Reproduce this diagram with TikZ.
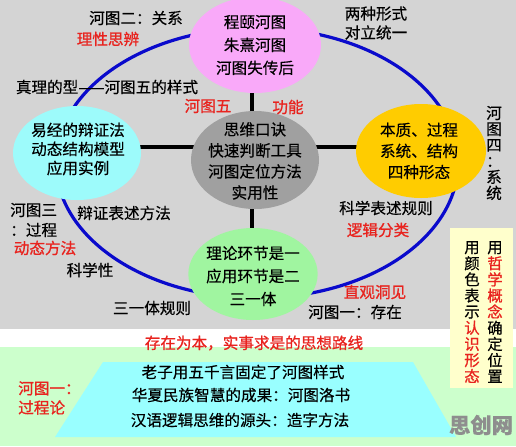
\documentclass[tikz,border=0pt]{standalone}
\usepackage{fontspec}
\setmainfont{Noto Sans CJK SC}[FakeBold=0.35]
\newfontfamily\redfont{Noto Sans CJK SC}[FakeBold=1.0]
\usetikzlibrary{shapes.geometric}
\pgfdeclarelayer{bgfill}
\pgfdeclarelayer{bglines}
\pgfsetlayers{bgfill,bglines,main}
\definecolor{bggray}{HTML}{D4D4D4}
\definecolor{pinkc}{HTML}{F9A9F9}
\definecolor{cyanc}{HTML}{9DFBFB}
\definecolor{grayc}{HTML}{A0A0A0}
\definecolor{orangec}{HTML}{FFCC00}
\definecolor{greenc}{HTML}{A0F5A0}
\definecolor{bandgreen}{HTML}{CCFFCC}
\definecolor{trapcyan}{HTML}{99FFFF}
\definecolor{yellowbox}{HTML}{FFFFCC}
\definecolor{ringblue}{HTML}{0A0ACC}
\definecolor{myred}{HTML}{E8231E}
\definecolor{wmgray}{HTML}{8E8E8E}
\newcommand{\rd}[1]{{\redfont\textcolor{myred}{#1}}}
\tikzset{
  txt/.style={inner sep=0pt, font=\fontsize{11.7}{14}\selectfont, text=black},
  redtxt/.style={inner sep=0pt, font=\redfont\fontsize{11.7}{14}\selectfont, text=myred},
  bubble/.style={ellipse, inner sep=0pt, draw=none},
  crossline/.style={line width=2.4pt, draw=black},
  ring/.style={line width=2.4pt, draw=ringblue}
}
\begin{document}
\begin{tikzpicture}[x=0.75pt,y=-0.75pt]
\useasboundingbox (0,0) rectangle (516,446);
% backgrounds
\begin{pgfonlayer}{bgfill}
\fill[bggray] (0,0) rectangle (516,329);
\fill[white] (0,329) rectangle (516,347);
\fill[bandgreen] (0,347) rectangle (516,446);
\end{pgfonlayer}
% bubbles
\node[bubble, fill=pinkc, minimum width=99pt, minimum height=72pt] (pink) at (255,45) {};
\node[bubble, fill=cyanc, minimum width=96pt, minimum height=70.5pt] (cyan) at (77,153) {};
\node[bubble, fill=grayc, minimum width=96pt, minimum height=73.5pt] (gray) at (255,160) {};
\node[bubble, fill=orangec, minimum width=97.5pt, minimum height=70.5pt] (orange) at (421,151) {};
\node[bubble, fill=greenc, minimum width=97pt, minimum height=69pt] (green) at (253,274) {};
% bubble texts
\node[txt, align=center, font=\fontsize{11.7}{17.2}\selectfont] (pinktxt) at (255,45) {程颐河图\\朱熹河图\\河图失传后};
\node[txt, align=center, font=\fontsize{11.7}{14.3}\selectfont] (cyantxt) at (78,149) {易经的辩证法\\动态结构模型\\应用实例};
\node[txt, align=center, font=\fontsize{11.7}{15.8}\selectfont] (graytxt) at (255,161) {思维口诀\\快速判断工具\\河图定位方法\\实用性};
\node[txt, align=center, font=\fontsize{11.7}{15.8}\selectfont] (orangetxt) at (419,151) {本质、过程\\系统、结构\\四种形态};
\node[txt, align=center, font=\fontsize{11.7}{17.2}\selectfont] (greentxt) at (253,276) {理论环节是一\\应用环节是二\\三一体};
% ring and cross lines
\coordinate (vline) at (252,0);
\coordinate (hline) at (0,147);
\begin{pgfonlayer}{bglines}
\draw[ring] (gray.center) ++(2,3) ellipse [x radius=201, y radius=135];
\draw[crossline] (pink.center -| vline) -- (green.center -| vline);
\draw[crossline] (cyan.center |- hline) -- (orange.center |- hline);
\end{pgfonlayer}
% labels
\node[txt] (l1) at (136,18) {河图二：关系};
\node[redtxt] (l2) at (108,39) {理性思辨};
\node[txt] (l3) at (107,87) {真理的型——河图五的样式};
\node[redtxt] (l4) at (208,106) {河图五};
\node[redtxt] (l5) at (288,107) {功能};
\node[txt, align=left, font=\fontsize{11.7}{14.3}\selectfont] (l6) at (376,23) {两种形式\\对立统一};
\node[txt, align=center, font=\fontsize{11.7}{12}\selectfont] (l7) at (494,153) {河\\图\\四\\：\\系\\统};
\node[txt] (l8) at (386,208) {科学表述规则};
\node[redtxt] (l9) at (378,230) {逻辑分类};
\node[redtxt] (l10) at (375,292) {直观洞见};
\node[txt] (l11) at (355,312) {河图一：存在};
\node[txt] (l12) at (152,308) {三一体规则};
\node[txt] (l13) at (90,270) {科学性};
\node[redtxt] (l14) at (45,248) {动态方法};
\node[txt, align=left, anchor=west, font=\fontsize{11.7}{15}\selectfont] (l15) at (10,220) {河图三\\：过程};
\node[txt] (l16) at (124,213) {辩证表述方法};
% bottom section
\node[redtxt] (l17) at (254,343) {存在为本，实事求是的思想路线};
\fill[trapcyan] (103,362) -- (413,362) -- (456,437) -- (55,437) -- cycle;
\node[redtxt, align=left, anchor=west, font=\redfont\fontsize{11.7}{14.5}\selectfont] (l18) at (18,398) {河图一：\\过程论};
\node[txt] (c1) at (243,372) {老子用五千言固定了河图样式};
\node[txt] (c2) at (241,395) {华夏民族智慧的成果：河图洛书};
\node[txt] (c3) at (240,420) {汉语逻辑思维的源头：造字方法};
% yellow note
\fill[yellowbox] (450,228) rectangle (513,388);
\node[txt, align=center, font=\fontsize{11.5}{12.1}\selectfont] (ycol1) at (495,312) {用\\\rd{哲}\\\rd{学}\\\rd{概}\\\rd{念}\\确\\定\\位\\置};
\node[txt, align=center, font=\fontsize{11.5}{12.1}\selectfont] (ycol2) at (472,312) {用\\颜\\色\\表\\示\\\rd{认}\\\rd{识}\\\rd{形}\\\rd{态}};
% watermark
\node[inner sep=0pt, font=\bfseries\fontsize{16}{16}\selectfont, text=wmgray] (wm) at (481,425) {思创网};
\end{tikzpicture}
\end{document}
